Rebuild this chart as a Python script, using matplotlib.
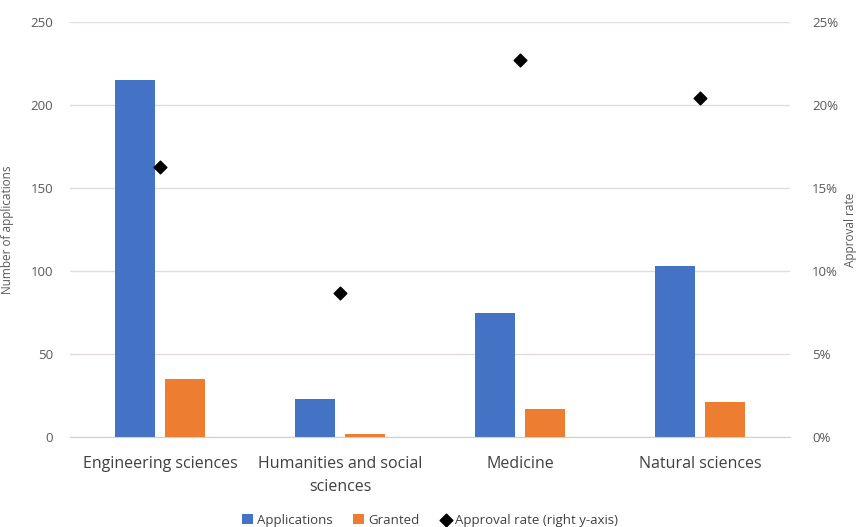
import matplotlib.pyplot as plt
import numpy as np
from matplotlib.ticker import PercentFormatter

# Data
categories = ['Engineering sciences', 'Humanities and social\nsciences', 'Medicine', 'Natural sciences']
applications = [215, 23, 75, 103]
granted = [35, 2, 17, 21]
approval_rate = [16.3, 8.7, 22.7, 20.4]  # percent

plt.rcParams['font.family'] = ['Open Sans', 'DejaVu Sans']

blue = '#4472C4'
orange = '#ED7D31'
grey_text = '#595959'

fig = plt.figure(figsize=(8.6, 5.27), dpi=100)
ax = fig.add_axes([0.0814, 0.1708, 0.8372, 0.7872])

x = np.arange(len(categories))
width = 0.222
gap = 0.061

ax.bar(x - (width + gap) / 2, applications, width, color=blue, label='Applications', zorder=2)
ax.bar(x + (width + gap) / 2, granted, width, color=orange, label='Granted', zorder=2)

ax.set_xlim(-0.5, len(categories) - 0.5)
ax.set_ylim(0, 250)
ax.set_yticks(range(0, 251, 50))
ax.grid(axis='y', color='#e2dcdc', linewidth=1, zorder=0)
ax.set_axisbelow(True)
for s in ['top', 'right', 'left']:
    ax.spines[s].set_visible(False)
ax.spines['bottom'].set_color('#d0d0d0')
ax.tick_params(axis='both', length=0, colors=grey_text, labelsize=9.5)
ax.tick_params(axis='y', pad=12)
ax.tick_params(axis='x', pad=14)
ax.set_xticks(x)
ax.set_xticklabels(categories, fontsize=11.5, color='#404040', linespacing=1.55)
ax.set_ylabel('Number of applications', fontsize=8.5, color=grey_text, labelpad=12)

# Approval rate on the right axis
ax2 = ax.twinx()
ax2.scatter(x, approval_rate, marker='D', s=42, color='black', zorder=3,
            label='Approval rate (right y-axis)')
ax2.set_ylim(0, 25)
ax2.set_yticks(range(0, 26, 5))
ax2.yaxis.set_major_formatter(PercentFormatter(decimals=0))
for s in ['top', 'right', 'left', 'bottom']:
    ax2.spines[s].set_visible(False)
ax2.tick_params(axis='y', length=0, colors=grey_text, labelsize=9.5, pad=16)
ax2.set_ylabel('Approval rate', fontsize=8.5, color=grey_text, labelpad=4)

h1, l1 = ax.get_legend_handles_labels()
h2, l2 = ax2.get_legend_handles_labels()
fig.legend(h1 + h2, l1 + l2, loc='lower center', bbox_to_anchor=(0.5, -0.022), ncol=3,
           frameon=False, fontsize=9.5, handlelength=0.8, handleheight=0.8,
           handletextpad=0.3, columnspacing=1.6, labelcolor='#404040')

fig.savefig('out.png', dpi=100)
